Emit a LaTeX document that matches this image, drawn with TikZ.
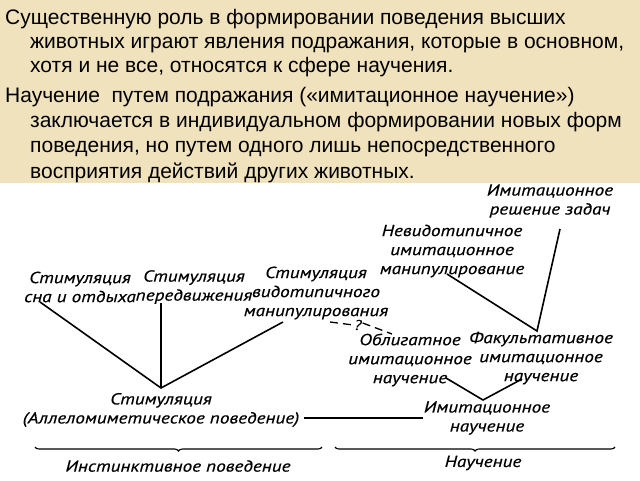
\documentclass[tikz,border=0pt]{standalone}
\usepackage{fontspec}
\setmainfont{Liberation Sans}
\newfontfamily\dfont{PT Sans}[FakeStretch=1.2,FakeBold=0.4]
\usetikzlibrary{decorations.pathreplacing,calc}
\definecolor{parch}{RGB}{240,226,188}
\tikzset{
  ptxt/.style={anchor=base west,inner sep=0pt,font=\fontsize{21}{25}\selectfont},
  lbl/.style={align=center,inner sep=1pt,font=\dfont\itshape\fontsize{16}{19}\selectfont},
  conn/.style={line width=1.6pt},
  dsh/.style={line width=1.3pt,dash pattern=on 8pt off 5pt},
  brc/.style={line width=1.1pt,decorate,decoration={brace,mirror,amplitude=4pt}}
}
\begin{document}
\begin{tikzpicture}[x=1pt,y=-1pt]
\useasboundingbox (0,0) rectangle (640,480);
\fill[white] (0,0) rectangle (640,480);
\fill[parch] (0,0) rectangle (640,183);
% paragraph
\node[ptxt] (p1) at (5,24) {Существенную роль в формировании поведения высших};
\node[ptxt] (p2) at (30,48) {животных играют явления подражания, которые в основном,};
\node[ptxt] (p3) at (30,72) {хотя и не все, относятся к сфере научения.};
\node[ptxt] (p4) at (5,102) {Научение \ путем подражания («имитационное научение»)};
\node[ptxt] (p5) at (30,127) {заключается в индивидуальном формировании новых форм};
\node[ptxt] (p6) at (30,152) {поведения, но путем одного лишь непосредственного};
\node[ptxt] (p7) at (30,178) {восприятия действий других животных.};
% diagram labels
\node[lbl] (s1) at (80,287) {Стимуляция\\сна и отдыха};
\node[lbl] (s2) at (194,287) {Стимуляция\\передвижения};
\node[lbl] (s3) at (316,293) {Стимуляция\\видотипичного\\манипулирования};
\node[lbl] (sa) at (161,410) {Стимуляция\\(Аллеломиметическое поведение)};
\node[lbl] (im) at (487,418) {Имитационное\\научение};
\node[lbl] (ob) at (410,360) {Облигатное\\имитационное\\научение};
\node[lbl] (fa) at (541,358) {Факультативное\\имитационное\\научение};
\node[lbl] (nv) at (452,251) {Невидотипичное\\имитационное\\манипулирование};
\node[lbl] (rz) at (550,201) {Имитационное\\решение задач};
\node[lbl] (ins) at (178,466) {Инстинктивное поведение};
\node[lbl] (nau) at (483,463) {Научение};
\node[lbl,inner sep=0pt,font=\dfont\itshape\fontsize{14}{16}\selectfont] (q) at (358,325) {?};
% connector points
\coordinate (j1) at (161,388);
\coordinate (e1) at (40,302);
\coordinate (e2) at (161,303);
\coordinate (e3) at (283,322);
\coordinate (j2) at (537,331);
\coordinate (e4) at (447,274);
\coordinate (e5) at (560,229);
\coordinate (j3) at (483,400);
\coordinate (e6) at (446,378);
\coordinate (e7) at (522,379);
\coordinate (d1) at (330,322);
\coordinate (d2) at (392,334);
\draw[conn] (e1) -- (j1) -- (e3);
\draw[conn] (e2) -- (j1);
\draw[conn] (e4) -- (j2) -- (e5);
\draw[conn] (e6) -- (j3) -- (e7);
\draw[conn] ([xshift=3pt]sa.east |- im.west) -- (im.west);
\draw[dsh] (d1) -- ([xshift=-1pt]q.west);
\draw[dsh] ([xshift=1pt,yshift=2pt]q.east) -- (d2);
\draw[brc] (35,447) -- (322,447);
\draw[brc] (335,447) -- (615,447);
\end{tikzpicture}
\end{document}
